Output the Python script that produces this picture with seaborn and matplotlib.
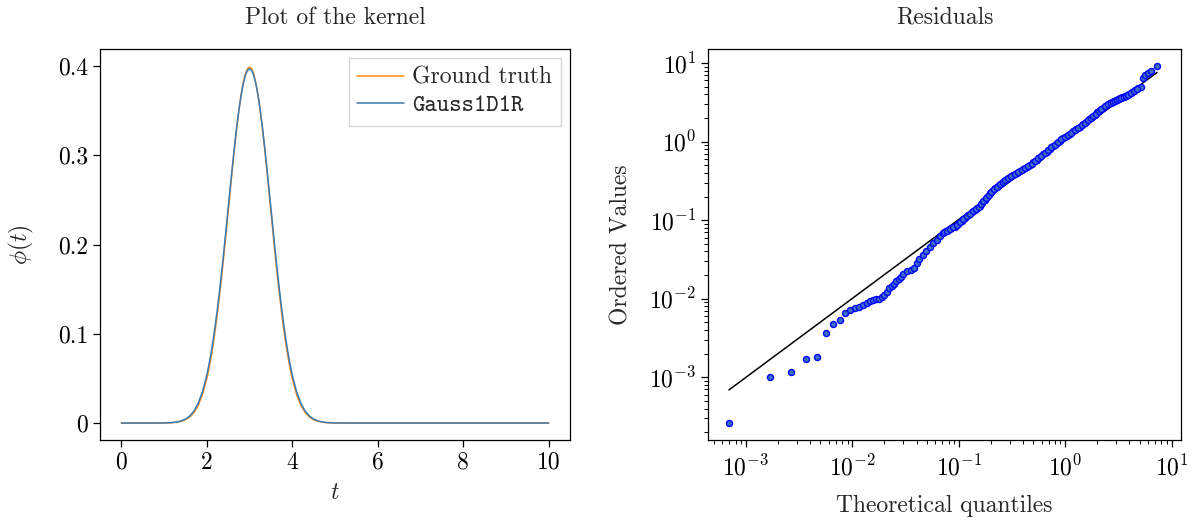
import matplotlib
matplotlib.use("Agg")
import matplotlib.pyplot as plt
import seaborn as sns
import pandas as pd
from matplotlib.ticker import LogLocator, NullFormatter

# ---------------- data ----------------
kernel_t = [0.0, 0.5,
            1.0, 1.1, 1.2, 1.3, 1.4, 1.5, 1.6, 1.7, 1.8, 1.9,
            2.0, 2.05, 2.1, 2.15, 2.2, 2.25, 2.3, 2.35, 2.4, 2.45,
            2.5, 2.55, 2.6, 2.65, 2.7, 2.75, 2.8, 2.85, 2.9, 2.95,
            3.0, 3.05, 3.1, 3.15, 3.2, 3.25, 3.3, 3.35, 3.4, 3.45,
            3.5, 3.55, 3.6, 3.65, 3.7, 3.75, 3.8, 3.85, 3.9, 3.95,
            4.0, 4.1, 4.2, 4.3, 4.4, 4.5, 4.6, 4.7, 4.8, 4.9,
            5.0, 5.5, 6.0, 7.0, 8.0, 9.0, 10.0]
ground_truth = [0.0, 0.0,
                0.0001, 0.0002, 0.0005, 0.0010, 0.0019, 0.0037, 0.0067, 0.0118, 0.0199, 0.0321,
                0.0497, 0.0609, 0.0738, 0.0886, 0.1052, 0.1236, 0.1438, 0.1655, 0.1885, 0.2125,
                0.2370, 0.2616, 0.2859, 0.3091, 0.3307, 0.3502, 0.3670, 0.3806, 0.3907, 0.3968,
                0.3989, 0.3968, 0.3907, 0.3806, 0.3670, 0.3502, 0.3307, 0.3091, 0.2859, 0.2616,
                0.2370, 0.2125, 0.1885, 0.1655, 0.1438, 0.1236, 0.1052, 0.0886, 0.0738, 0.0609,
                0.0497, 0.0321, 0.0199, 0.0118, 0.0067, 0.0037, 0.0019, 0.0010, 0.0005, 0.0002,
                0.0001, 0.0, 0.0, 0.0, 0.0, 0.0, 0.0]
gauss1d1r = [0.0, 0.0,
             0.0001, 0.0003, 0.0006, 0.0012, 0.0024, 0.0044, 0.0079, 0.0135, 0.0223, 0.0353,
             0.0537, 0.0653, 0.0786, 0.0936, 0.1104, 0.1289, 0.1490, 0.1705, 0.1932, 0.2168,
             0.2408, 0.2648, 0.2883, 0.3107, 0.3316, 0.3503, 0.3665, 0.3795, 0.3891, 0.3950,
             0.3970, 0.3950, 0.3891, 0.3795, 0.3665, 0.3503, 0.3316, 0.3107, 0.2883, 0.2648,
             0.2408, 0.2168, 0.1932, 0.1705, 0.1490, 0.1289, 0.1104, 0.0936, 0.0786, 0.0653,
             0.0537, 0.0353, 0.0223, 0.0135, 0.0079, 0.0044, 0.0024, 0.0012, 0.0006, 0.0003,
             0.0001, 0.0, 0.0, 0.0, 0.0, 0.0, 0.0]
kernel_xticks = [0, 2, 4, 6, 8, 10]
kernel_yticks = [0.0, 0.1, 0.2, 0.3, 0.4]
kernel_yticklabels = ["0", "0.1", "0.2", "0.3", "0.4"]

qq_theoretical = [
    6.92e-4, 1.67e-3, 2.65e-3, 3.64e-3, 4.62e-3, 5.60e-3, 6.56e-3, 7.59e-3, 8.55e-3, 9.53e-3,
    1.05e-2, 1.15e-2, 1.26e-2, 1.36e-2, 1.46e-2, 1.57e-2, 1.67e-2, 1.79e-2, 1.89e-2, 1.99e-2,
    2.09e-2, 2.22e-2, 2.33e-2, 2.45e-2, 2.58e-2, 2.72e-2, 2.84e-2, 3.00e-2, 3.23e-2, 3.52e-2,
    3.78e-2, 4.01e-2, 4.24e-2, 4.62e-2, 4.95e-2, 5.34e-2, 5.74e-2, 6.18e-2, 6.64e-2, 7.12e-2,
    7.52e-2, 7.94e-2, 8.51e-2, 9.17e-2, 9.85e-2, 0.106, 0.114, 0.122, 0.132, 0.141,
    0.149, 0.157, 0.166, 0.175, 0.185, 0.196, 0.206, 0.218, 0.234, 0.252,
    0.266, 0.281, 0.301, 0.324, 0.348, 0.374, 0.402, 0.432, 0.464, 0.499,
    0.537, 0.576, 0.619, 0.666, 0.715, 0.768, 0.827, 0.888, 0.953, 1.03,
    1.10, 1.18, 1.27, 1.37, 1.47, 1.58, 1.68, 1.78, 1.89, 2.00,
    2.11, 2.26, 2.44, 2.62, 2.73, 2.87, 3.00, 3.13, 3.28, 3.44,
    3.60, 3.76, 3.99, 4.24, 4.50, 4.83, 5.17, 5.36, 5.60, 5.92, 6.39, 7.27]
qq_ordered = [
    2.64e-4, 1.02e-3, 1.18e-3, 1.69e-3, 1.83e-3, 3.64e-3, 4.73e-3, 5.37e-3, 6.53e-3, 7.10e-3,
    7.52e-3, 7.87e-3, 8.34e-3, 8.77e-3, 9.25e-3, 9.58e-3, 9.80e-3, 1.00e-2, 1.04e-2, 1.13e-2,
    1.23e-2, 1.36e-2, 1.47e-2, 1.56e-2, 1.67e-2, 1.77e-2, 1.90e-2, 2.07e-2, 2.24e-2, 2.33e-2,
    2.49e-2, 2.83e-2, 3.18e-2, 3.61e-2, 4.01e-2, 4.53e-2, 5.06e-2, 5.61e-2, 6.22e-2, 6.82e-2,
    7.19e-2, 7.52e-2, 7.87e-2, 8.28e-2, 9.06e-2, 9.89e-2, 0.108, 0.117, 0.126, 0.135,
    0.144, 0.152, 0.166, 0.181, 0.200, 0.221, 0.238, 0.256, 0.275, 0.296,
    0.317, 0.336, 0.354, 0.374, 0.397, 0.421, 0.447, 0.473, 0.506, 0.545,
    0.586, 0.637, 0.689, 0.748, 0.813, 0.881, 0.957, 1.03, 1.10, 1.19,
    1.26, 1.35, 1.44, 1.55, 1.68, 1.80, 1.92, 2.06, 2.19, 2.36,
    2.54, 2.71, 2.90, 3.09, 3.17, 3.25, 3.36, 3.46, 3.58, 3.69,
    3.78, 3.87, 4.06, 4.31, 4.57, 4.78, 4.89, 6.44, 6.95, 7.46, 7.98, 9.06]
# extra readings along the dense part of the band
qq_theoretical_dense = [
    7.32e-2, 7.73e-2, 8.22e-2, 8.83e-2, 9.50e-2, 0.102, 0.110, 0.118, 0.127, 0.136,
    0.145, 0.153, 0.161, 0.170, 0.180, 0.190, 0.201, 0.212, 0.226, 0.243,
    0.259, 0.273, 0.291, 0.312, 0.336, 0.361, 0.388, 0.417, 0.448, 0.481,
    0.518, 0.556, 0.597, 0.642, 0.690, 0.741, 0.797, 0.857, 0.920, 0.990,
    1.065, 1.14, 1.22, 1.32, 1.42, 1.52, 1.63, 1.73, 1.83, 1.94,
    2.05, 2.18, 2.35, 2.53, 2.67, 2.80, 2.93, 3.06, 3.20, 3.36,
    3.52, 3.68, 3.87, 4.11, 4.37, 4.66]
qq_ordered_dense = [
    7.00e-2, 7.35e-2, 7.69e-2, 8.07e-2, 8.66e-2, 9.47e-2, 0.103, 0.112, 0.121, 0.130,
    0.139, 0.148, 0.159, 0.173, 0.190, 0.210, 0.229, 0.247, 0.265, 0.285,
    0.306, 0.326, 0.345, 0.364, 0.385, 0.409, 0.434, 0.460, 0.489, 0.525,
    0.565, 0.611, 0.662, 0.718, 0.780, 0.846, 0.918, 0.993, 1.065, 1.145,
    1.225, 1.305, 1.395, 1.495, 1.615, 1.74, 1.86, 1.99, 2.12, 2.275,
    2.45, 2.625, 2.80, 3.00, 3.13, 3.21, 3.305, 3.41, 3.52, 3.635,
    3.735, 3.825, 3.965, 4.185, 4.44, 4.675]
qq_line_x = [6.92e-4, 7.27]
qq_line_y = [6.90e-4, 7.60]

# ---------------- style ----------------
sns.set_style("ticks")
plt.rcParams["font.family"] = ["cmr10", "DejaVu Serif"]
plt.rcParams["mathtext.fontset"] = "cm"
plt.rcParams["axes.formatter.use_mathtext"] = True
plt.rcParams["axes.unicode_minus"] = False
plt.rcParams["font.size"] = 17
plt.rcParams["axes.edgecolor"] = "black"
plt.rcParams["axes.linewidth"] = 0.9
plt.rcParams["xtick.color"] = "black"
plt.rcParams["ytick.color"] = "black"

fig = plt.figure(figsize=(11.94, 5.22), dpi=100)
ax1 = fig.add_axes([100 / 1194, 82 / 522, 470 / 1194, 391 / 522])
ax2 = fig.add_axes([708 / 1194, 82 / 522, 473 / 1194, 391 / 522])

# ---------------- left: kernel ----------------
df_k = pd.DataFrame({
    "t": kernel_t * 2,
    "phi": ground_truth + gauss1d1r,
    "model": ["Ground truth"] * len(kernel_t) + ["Gauss1D1R"] * len(kernel_t),
})
sns.lineplot(data=df_k, x="t", y="phi", hue="model",
             palette={"Ground truth": "#ff8c1a", "Gauss1D1R": "#3a7bb5"},
             estimator=None, sort=False, linewidth=1.1, ax=ax1)
for s in ax1.spines.values():
    s.set_visible(True)
ax1.set_xlim(-0.5, 10.5)
ax1.set_ylim(-0.019, 0.419)
ax1.set_xticks(kernel_xticks)
ax1.set_xticklabels([str(v) for v in kernel_xticks])
ax1.set_yticks(kernel_yticks)
ax1.set_yticklabels(kernel_yticklabels)
ax1.set_xlabel(r"$t$", labelpad=6)
ax1.set_ylabel(r"$\phi(t)$", labelpad=16)
ax1.set_title("Plot of the kernel", pad=18, fontsize=17)
ax1.tick_params(direction="out", length=5, width=0.9, labelsize=17)
leg = ax1.legend(loc="upper right", fontsize=17, handlelength=2.0,
                 borderaxespad=0.4, framealpha=0.8, edgecolor="#cccccc",
                 fancybox=False, borderpad=0.35, labelspacing=0.25,
                 handletextpad=0.35)
leg.get_frame().set_linewidth(1.0)
for txt in leg.get_texts():
    if txt.get_text() == "Gauss1D1R":
        txt.set_family("cmtt10")

# ---------------- right: QQ residuals ----------------
df_q = pd.DataFrame({"q": qq_theoretical + qq_theoretical_dense,
                     "v": qq_ordered + qq_ordered_dense})
sns.scatterplot(data=df_q, x="q", y="v", ax=ax2, marker="o", s=19,
                color="#3d6fc8", edgecolor="#0000ff", linewidth=1.0, zorder=3)
sns.lineplot(x=qq_line_x, y=qq_line_y, ax=ax2, color="black", linewidth=1.1,
             estimator=None, sort=False, zorder=2)
ax2.set_xscale("log")
ax2.set_yscale("log")
ax2.set_xlim(4.4e-4, 12.2)
ax2.set_ylim(1.59e-4, 15.1)
for s in ax2.spines.values():
    s.set_visible(True)
ax2.xaxis.set_major_locator(LogLocator(base=10, numticks=20))
ax2.yaxis.set_major_locator(LogLocator(base=10, numticks=20))
ax2.xaxis.set_minor_locator(LogLocator(base=10, subs=range(2, 10), numticks=20))
ax2.yaxis.set_minor_locator(LogLocator(base=10, subs=range(2, 10), numticks=20))
ax2.xaxis.set_minor_formatter(NullFormatter())
ax2.yaxis.set_minor_formatter(NullFormatter())
ax2.tick_params(which="major", direction="out", length=5, width=0.9, labelsize=17)
ax2.tick_params(axis="x", which="major", pad=6)
ax2.tick_params(which="minor", direction="out", length=3, width=0.7)
ax2.set_xlabel("Theoretical quantiles", labelpad=10)
ax2.set_ylabel("Ordered Values", labelpad=12)
ax2.set_title("Residuals", pad=18, fontsize=17)

fig.savefig("out.png", dpi=100)
